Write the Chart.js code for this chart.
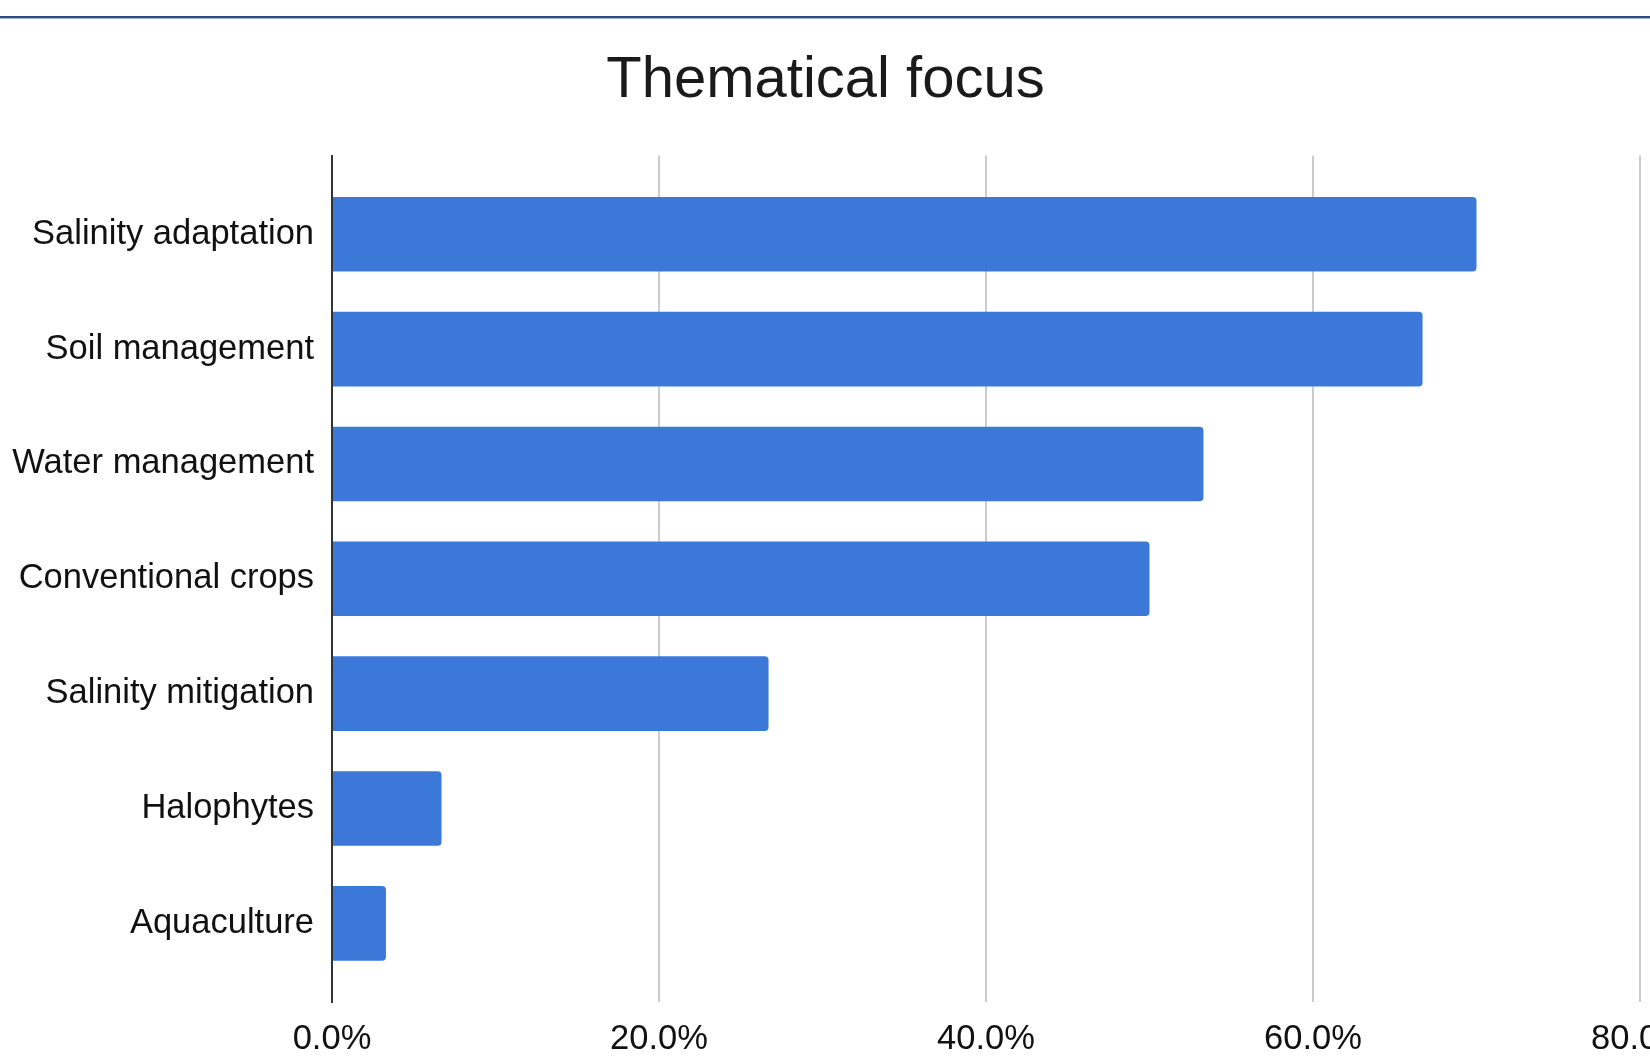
<!DOCTYPE html>
<html>
<head>
<meta charset="utf-8">
<script src="https://cdn.jsdelivr.net/npm/chart.js@4"></script>
<style>
  html, body { margin: 0; padding: 0; background: #fff; overflow: hidden; }
  #topline { position: absolute; left: 0; top: 16px; width: 1650px; height: 2px; background: #2c4b7b; border-bottom: 1px solid #a9b8cd; }
  #wrap { position: absolute; left: 0; top: 0; width: 1650px; height: 1062px; }
</style>
</head>
<body>
<div id="topline"></div>
<div id="wrap"><canvas id="myChart"></canvas></div>
<script>
// thematical focus, share of projects (%)
var categories = [
  "Salinity adaptation",
  "Soil management",
  "Water management",
  "Conventional crops",
  "Salinity mitigation",
  "Halophytes",
  "Aquaculture",
];
var values = [70.0, 66.7, 53.3, 50.0, 26.7, 6.7, 3.3];
var xTicks = [0, 20, 40, 60, 80];

var points = categories.map((c, i) => ({ x: values[i], y: i }));
var labelFont = { family: "'Liberation Sans', Arial, sans-serif", size: 34.5 };

var ctx = document.getElementById("myChart");

var myChart = new Chart(ctx, {
  type: "bar",
  data: {
    datasets: [
      {
        label: "Thematical focus",
        data: points,
        backgroundColor: "#3c78d8",
        borderWidth: 0,
        borderRadius: 4,
        categoryPercentage: 1,
        barPercentage: 0.65,
      },
    ],
  },
  options: {
    indexAxis: "y",
    responsive: true,
    maintainAspectRatio: false,
    animation: false,
    layout: {
      autoPadding: false,
      padding: { left: 11, right: 10, top: 0, bottom: 4 },
    },
    plugins: {
      legend: { display: false },
      tooltip: { enabled: false },
      title: {
        display: true,
        text: "Thematical focus",
        color: "#1a1a1a",
        font: { family: "'Liberation Sans', Arial, sans-serif", size: 58, weight: "normal" },
        padding: { top: 46, bottom: 40 },
      },
    },
    scales: {
      x: {
        type: "linear",
        min: xTicks[0],
        max: xTicks[xTicks.length - 1],
        afterBuildTicks: (scale) => {
          scale.ticks = xTicks.map((v) => ({ value: v }));
        },
        afterFit: (scale) => {
          // let the last label run off the edge, like the original
          scale.height = 56;
          scale.paddingLeft = 0;
          scale.paddingRight = 0;
        },
        grid: { color: "#cccccc", lineWidth: 2, drawTicks: false },
        border: { display: false },
        ticks: {
          color: "#111",
          font: labelFont,
          padding: 17,
          maxRotation: 0,
          callback: (v) => v.toFixed(1) + "%",
        },
      },
      y: {
        type: "linear",
        reverse: true,
        offset: false,
        min: -0.685,
        max: categories.length - 1 + 0.685,
        afterFit: (scale) => {
          scale.width = 321;
        },
        grid: { display: false, drawTicks: false },
        border: { display: true, color: "#333333", width: 2 },
        ticks: {
          stepSize: 1,
          includeBounds: false,
          color: "#111",
          font: labelFont,
          padding: 18,
          callback: (v) => (Number.isInteger(v) ? categories[v] : ""),
        },
      },
    },
  },
});
</script>
</body>
</html>
